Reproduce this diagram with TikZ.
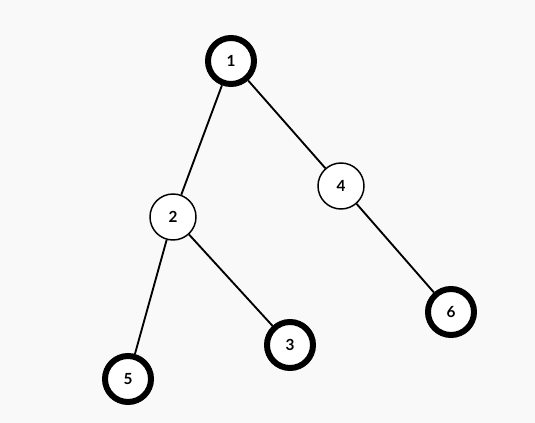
\documentclass[tikz,border=0pt]{standalone}
\usepackage{fontspec}
\setmainfont{Lato}
\usepackage{tikz}

\tikzset{
    vert/.style={circle, draw=black, fill=white, line width=1.1pt, minimum size=34.5pt, inner sep=0pt, font=\fontsize{11.5}{13}\selectfont\bfseries},
    leaf/.style={vert, line width=4.5pt},
    link/.style={black, line width=1.4pt}
}

\begin{document}
\begin{tikzpicture}[x=0.75pt, y=-0.75pt]
    
    \fill[black!2.5] (0,0) rectangle (535,423);
    \useasboundingbox (0,0) rectangle (535,423);
    
    \node[leaf] (n1) at (231,61) {1};
    \node[vert] (n2) at (173,217) {2};
    \node[vert] (n4) at (341,186) {4};
    \node[leaf] (n3) at (290,345) {3};
    \node[leaf] (n5) at (128,379) {5};
    \node[leaf] (n6) at (451,312) {6};
    
    \draw[link] (n1) -- (n2);
    \draw[link] (n1) -- (n4);
    \draw[link] (n2) -- (n5);
    \draw[link] (n2) -- (n3);
    \draw[link] (n4) -- (n6);
    
\end{tikzpicture}
\end{document}
